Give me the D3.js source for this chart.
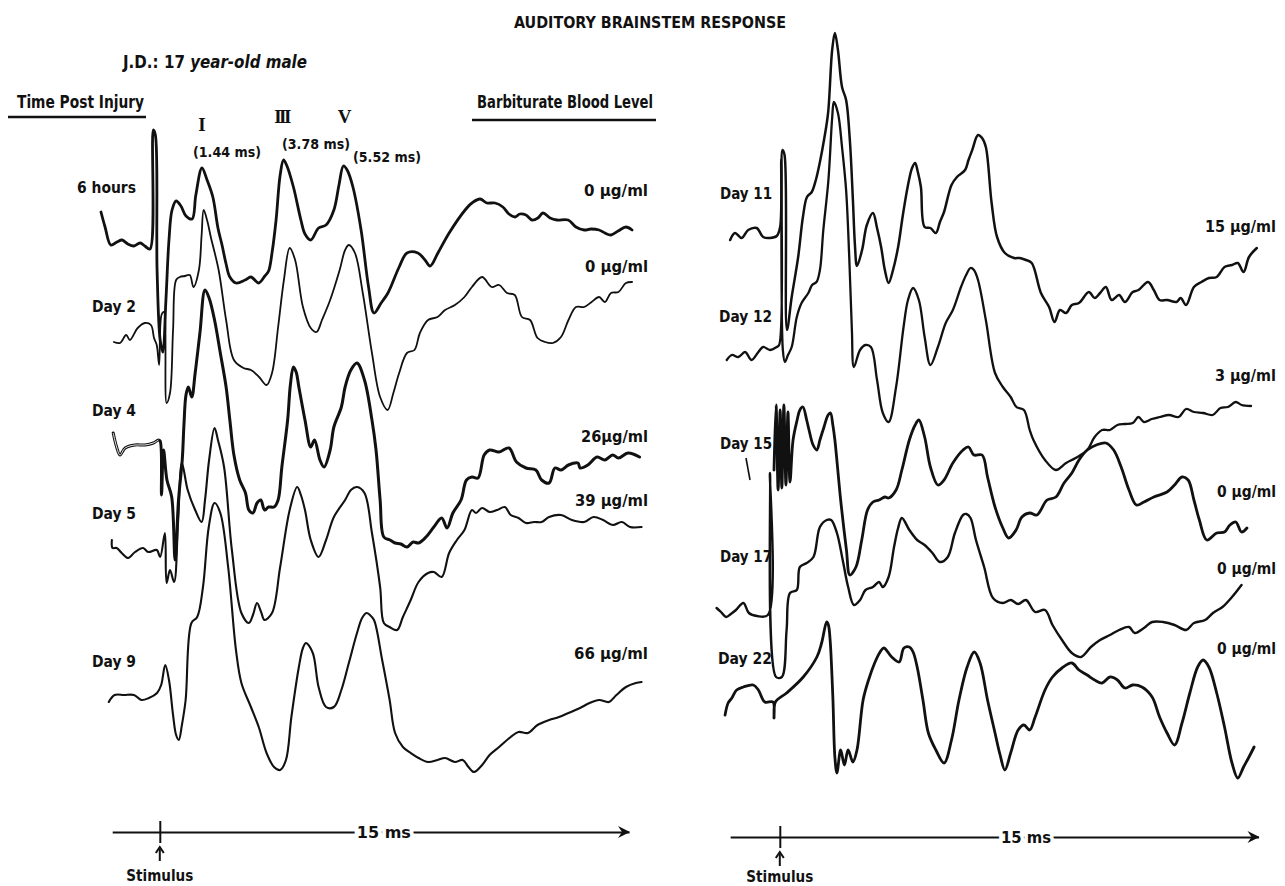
<!DOCTYPE html>
<html>
<head>
<meta charset="utf-8">
<script src="https://cdn.jsdelivr.net/npm/d3@7"></script>
<style>
  html, body { margin: 0; padding: 0; background: #fff; }
  svg { display: block; }
  text { font-family: "Liberation Sans Narrow", "DejaVu Sans Condensed", "Roboto Condensed", sans-serif; font-weight: bold; fill: #111; }
</style>
</head>
<body>
<div id="chart"></div>
<script>
// ---- data: time in ms, amplitude in arbitrary units (0 = pre-stimulus level) ----
const leftLabels = ["6 hours", "Day 2", "Day 4", "Day 5", "Day 9"];
const leftLevels = ["0 µg/ml", "0 µg/ml", "26µg/ml", "39 µg/ml", "66 µg/ml"];
const rightLabels = ["Day 11", "Day 12", "Day 15", "Day 17", "Day 22"];
const rightLevels = ["15 µg/ml", "3 µg/ml", "0 µg/ml", "0 µg/ml", "0 µg/ml"];
const waveNames = ["I", "III", "V"];
const waveLatencies = [1.44, 3.78, 5.52];
const stimulusMs = 0.2;
const sweepLabel = "15 ms";

const hours6 = [[-1.53,3.3],[-1.41,1.8],[-1.24,0],[-1.06,0.3],[-0.91,0.5],[-0.74,0.1],[-0.56,-0.1],[-0.38,0.2],[-0.24,-0.1],[-0.09,-0.4],[0.01,11.5],[0.07,11.0],[0.12,-2.5],[0.21,-9.5],[0.29,-10.7],[0.38,-5.5],[0.47,0.5],[0.56,3.5],[0.68,4.4],[0.82,3.9],[0.97,2.9],[1.15,2.6],[1.26,5.0],[1.44,7.7],[1.59,6.5],[1.76,4.8],[1.91,1.7],[2.03,0],[2.15,-1.9],[2.26,-3.2],[2.44,-3.8],[2.71,-3.5],[2.88,-3.2],[3.11,-3.8],[3.29,-3.1],[3.40,-2.6],[3.50,-0.8],[3.62,2.5],[3.74,7.0],[3.84,8.5],[3.94,7.9],[4.13,5.8],[4.35,2.5],[4.47,1.1],[4.64,0.5],[4.87,1.7],[5.09,2.0],[5.32,3.5],[5.47,6.0],[5.60,7.9],[5.71,7.5],[5.88,5.8],[6.12,1.5],[6.34,-4.2],[6.50,-6.8],[6.71,-5.8],[6.91,-4.8],[7.24,-2.2],[7.47,-0.8],[7.79,-0.8],[8.00,-1.5],[8.15,-2.1],[8.38,-0.8],[8.71,1.2],[9.18,3.5],[9.38,4.2],[9.62,4.6],[9.82,4.2],[10.06,4.2],[10.29,3.8],[10.47,3.1],[10.65,2.8],[10.79,3.1],[10.97,3.0],[11.15,2.5],[11.32,2.7],[11.47,3.2],[11.68,2.7],[11.88,2.5],[12.21,2.5],[12.44,1.8],[12.68,1.5],[12.88,1.6],[13.12,1.5],[13.29,1.2],[13.47,1.0],[13.68,1.4],[13.91,1.8],[14.09,1.5]];

const day2 = [[-1.15,-0.7],[-0.97,-0.8],[-0.79,0],[-0.68,-0.5],[-0.45,0.7],[-0.24,1.2],[-0.06,1.0],[0.03,-0.3],[0.11,-1.0],[0.18,-3.0],[0.25,2.0],[0.32,2.3],[0.40,-6.8],[0.50,-5.8],[0.59,0.5],[0.68,5.5],[0.79,5.8],[0.94,5.9],[1.08,6.0],[1.19,4.8],[1.35,6.5],[1.43,10.0],[1.49,12.5],[1.59,11.5],[1.70,9.8],[1.93,6.5],[2.15,1.5],[2.38,-2.5],[2.66,-3.3],[2.88,-3.5],[3.12,-4.2],[3.34,-5.0],[3.50,-3.8],[3.68,0.8],[3.85,5.5],[4.02,8.7],[4.18,7.5],[4.41,2.8],[4.64,0.7],[4.81,0.3],[4.97,1.5],[5.21,3.5],[5.49,6.5],[5.65,8.5],[5.76,9.0],[5.94,8.2],[6.17,4.2],[6.44,-1.8],[6.68,-6.2],[6.90,-7.5],[7.07,-5.8],[7.24,-3.8],[7.47,-1.8],[7.69,-1.5],[7.85,0.2],[8.09,1.5],[8.37,1.8],[8.59,2.5],[8.88,3.0],[9.16,3.8],[9.38,4.8],[9.68,5.8],[9.96,4.8],[10.18,5.0],[10.41,4.2],[10.64,4.0],[10.85,1.8],[11.09,1.5],[11.31,-0.3],[11.53,-0.7],[11.76,-0.8],[12.00,-0.2],[12.22,1.5],[12.44,2.8],[12.68,2.8],[12.90,3.3],[13.12,3.8],[13.29,3.3],[13.47,4.2],[13.69,4.3],[13.91,5.2],[14.09,5.3]];

const day4 = [[-1.17,1.0],[-1.07,-0.4],[-0.97,-1.2],[-0.82,-0.5],[-0.53,-0.2],[-0.24,-0.2],[0.01,0],[0.16,0.3],[0.21,0.2],[0.25,-5.2],[0.31,-0.7],[0.41,-3.7],[0.55,-5.4],[0.65,-11.7],[0.75,-5.7],[0.86,-1.7],[0.91,1.8],[0.97,4.8],[1.04,5.6],[1.14,4.6],[1.24,7.0],[1.38,11.0],[1.53,15.3],[1.65,14.5],[1.81,12.3],[1.98,9.0],[2.15,5.6],[2.26,2.3],[2.38,-1.2],[2.55,-3.7],[2.72,-5.0],[2.82,-6.7],[2.94,-7.0],[3.06,-6.0],[3.17,-5.7],[3.28,-6.7],[3.40,-6.4],[3.56,-6.4],[3.68,-5.7],[3.79,-2.4],[3.96,2.3],[4.04,5.8],[4.13,7.6],[4.21,7.1],[4.29,5.6],[4.47,2.3],[4.64,-0.4],[4.75,0.3],[4.91,-1.7],[5.03,-2.4],[5.21,-0.7],[5.32,1.6],[5.54,3.6],[5.65,5.6],[5.82,7.3],[6.00,8.0],[6.22,6.3],[6.44,2.3],[6.56,-0.7],[6.68,-5.7],[6.79,-9.4],[6.97,-9.7],[7.12,-10.0],[7.29,-10.1],[7.47,-10.4],[7.65,-9.9],[7.81,-10.0],[8.03,-9.4],[8.26,-8.4],[8.49,-7.5],[8.65,-8.5],[8.82,-7.0],[9.06,-5.7],[9.22,-3.7],[9.38,-3.4],[9.56,-3.5],[9.74,-1.2],[9.90,-0.7],[10.18,-0.9],[10.47,-0.5],[10.69,-1.9],[10.97,-2.5],[11.26,-2.7],[11.43,-3.7],[11.65,-4.0],[11.82,-2.5],[12.00,-2.7],[12.22,-2.2],[12.50,-2.0],[12.56,-2.5],[12.79,-2.2],[13.06,-1.4],[13.29,-1.7],[13.52,-1.2],[13.69,-1.5],[13.97,-1.0],[14.31,-1.4]];

const day5 = [[-1.21,1.0],[-1.19,0.2],[-1.07,0.2],[-0.92,-0.3],[-0.73,-0.8],[-0.53,-0.2],[-0.29,0.2],[-0.14,-0.2],[0.11,0],[0.21,-0.7],[0.35,1.7],[0.40,-3.3],[0.50,-2.0],[0.62,-3.2],[0.74,3.0],[0.85,8.7],[1.02,6.0],[1.24,4.0],[1.43,2.8],[1.53,5.0],[1.65,9.0],[1.81,12.2],[1.91,11.0],[2.09,8.3],[2.32,0],[2.60,-6.3],[2.82,-7.3],[2.94,-6.5],[3.06,-5.3],[3.18,-6.2],[3.28,-7.0],[3.50,-6.3],[3.74,-1.7],[4.02,4.0],[4.24,6.3],[4.35,5.5],[4.47,4.0],[4.64,1.0],[4.87,-0.7],[5.09,1.0],[5.32,3.3],[5.65,5.0],[5.82,6.0],[6.00,6.3],[6.22,5.7],[6.44,1.7],[6.68,-3.7],[6.79,-7.3],[6.96,-7.7],[7.18,-8.0],[7.35,-6.7],[7.58,-5.0],[7.81,-3.2],[8.09,-2.3],[8.26,-2.2],[8.49,-2.7],[8.71,-0.3],[8.94,1.0],[9.16,2.0],[9.38,4.0],[9.50,3.7],[9.68,4.2],[9.90,3.8],[10.12,4.0],[10.35,4.3],[10.52,3.5],[10.75,3.2],[10.97,2.7],[11.21,2.8],[11.43,2.8],[11.65,3.3],[12.00,3.5],[12.32,3.0],[12.68,2.8],[12.96,3.3],[13.24,3.0],[13.52,2.5],[13.79,2.8],[14.03,2.3],[14.37,2.3]];

const day9 = [[-1.30,-0.7],[-1.13,0],[-0.85,0],[-0.56,0],[-0.34,-0.5],[-0.12,-0.3],[0.12,0.2],[0.24,1.0],[0.36,3.0],[0.47,1.5],[0.59,-2.0],[0.68,-4.0],[0.76,-4.5],[0.85,-3.0],[0.96,-0.5],[1.13,7.2],[1.30,7.8],[1.47,10.8],[1.64,16.8],[1.81,19.2],[1.98,18.2],[2.21,12.8],[2.44,4.5],[2.60,1.2],[2.88,-1.2],[3.11,-3.2],[3.34,-5.8],[3.56,-7.2],[3.74,-7.5],[3.91,-6.5],[4.07,-2.2],[4.29,2.8],[4.41,4.7],[4.50,5.2],[4.70,4.2],[4.87,0.8],[5.09,-1.2],[5.32,-1.2],[5.54,0.5],[5.76,3.2],[6.00,6.2],[6.15,7.7],[6.28,8.2],[6.38,8.0],[6.50,7.5],[6.74,3.5],[6.96,-0.5],[7.12,-3.8],[7.35,-5.2],[7.58,-5.8],[7.81,-6.3],[8.09,-6.7],[8.37,-6.5],[8.59,-6.3],[8.88,-6.7],[9.11,-6.5],[9.28,-7.2],[9.44,-7.7],[9.68,-7.0],[9.90,-6.0],[10.18,-5.2],[10.52,-4.2],[10.75,-3.7],[11.03,-3.8],[11.31,-3.0],[11.65,-2.5],[11.94,-2.2],[12.22,-1.8],[12.56,-1.3],[12.84,-0.8],[13.12,-0.5],[13.41,-0.7],[13.63,0],[13.91,0.8],[14.20,1.2],[14.37,1.3]];

const day11 = [[-1.26,-0.4],[-1.12,0.3],[-0.92,-0.2],[-0.73,0.6],[-0.48,0.8],[-0.29,-0.1],[-0.09,-0.2],[0.11,0],[0.21,0.9],[0.28,8.6],[0.34,8.1],[0.41,-9.4],[0.55,-6.1],[0.74,-2.1],[0.88,1.9],[1.00,3.9],[1.14,4.4],[1.26,5.6],[1.38,7.4],[1.50,9.6],[1.62,12.3],[1.74,18.6],[1.82,20.3],[1.91,18.6],[2.03,14.9],[2.15,13.6],[2.26,9.6],[2.35,3.6],[2.41,-0.9],[2.47,-3.0],[2.62,-1.4],[2.76,1.1],[2.94,2.3],[3.06,0.8],[3.18,-1.1],[3.29,-3.4],[3.40,-4.7],[3.53,-3.4],[3.68,-1.1],[3.82,2.1],[3.96,4.9],[4.09,6.8],[4.18,7.3],[4.26,6.4],[4.35,4.9],[4.46,0.9],[4.63,0.8],[4.79,0.3],[4.91,1.4],[5.03,2.4],[5.25,5.1],[5.41,5.9],[5.65,6.6],[5.75,7.6],[5.86,8.6],[6.03,10.1],[6.15,9.8],[6.26,8.9],[6.43,3.3],[6.59,-0.1],[6.82,-1.7],[7.09,-2.2],[7.26,-2.2],[7.44,-2.4],[7.61,-2.7],[7.88,-5.7],[8.12,-7.1],[8.28,-8.6],[8.44,-7.4],[8.62,-7.7],[8.79,-6.9],[9.00,-6.7],[9.29,-5.6],[9.46,-6.2],[9.62,-5.7],[9.79,-5.1],[9.96,-6.4],[10.18,-5.9],[10.35,-6.6],[10.58,-5.6],[10.75,-5.4],[11.03,-4.6],[11.20,-5.4],[11.37,-6.4],[11.59,-6.4],[11.87,-6.6],[11.99,-6.2],[12.15,-6.9],[12.38,-5.1],[12.60,-4.6],[12.82,-4.2],[13.05,-4.1],[13.28,-3.1],[13.50,-2.9],[13.67,-2.7],[13.84,-3.6],[14.00,-2.1],[14.23,-1.2]];

const day12 = [[-1.36,-0.8],[-1.21,-0.3],[-1.02,-0.5],[-0.82,0],[-0.63,-0.8],[-0.43,0],[-0.29,0.5],[-0.09,0.2],[0.11,0.5],[0.18,0.7],[0.24,19.2],[0.29,0.2],[0.35,-1.0],[0.44,-0.3],[0.55,0.5],[0.70,3.5],[0.84,4.9],[1.04,5.9],[1.15,6.7],[1.28,7.0],[1.38,8.2],[1.48,12.2],[1.63,17.2],[1.74,23.4],[1.79,25.0],[1.91,23.9],[2.03,20.5],[2.15,16.2],[2.24,9.7],[2.32,2.2],[2.38,-1.5],[2.56,0.2],[2.72,0.7],[2.88,0.5],[3.06,-2.8],[3.23,-6.1],[3.40,-7.0],[3.62,-3.5],[3.84,2.5],[3.97,5.2],[4.12,6.4],[4.29,5.2],[4.46,1.5],[4.63,-1.3],[4.85,0.5],[5.08,2.9],[5.29,4.2],[5.53,6.5],[5.68,7.7],[5.81,8.4],[5.91,8.2],[6.03,7.2],[6.26,3.2],[6.53,-2.1],[6.76,-3.5],[6.99,-4.5],[7.16,-5.5],[7.38,-5.8],[7.55,-7.8],[7.66,-8.8],[8.00,-10.8],[8.32,-11.8],[8.62,-11.1],[8.90,-10.6],[9.24,-9.8],[9.46,-8.5],[9.68,-7.8],[9.91,-7.8],[10.13,-7.3],[10.35,-7.2],[10.58,-7.1],[10.75,-6.5],[10.91,-7.0],[11.14,-6.7],[11.37,-6.5],[11.65,-6.3],[11.93,-6.5],[12.15,-5.7],[12.38,-6.0],[12.65,-6.1],[12.93,-6.3],[13.16,-5.6],[13.38,-5.5],[13.61,-5.0],[13.78,-5.3],[14.06,-5.4]];

const day15 = [[0.03,-2.0],[0.09,4.5],[0.15,-4.0],[0.21,4.0],[0.26,-3.8],[0.32,4.5],[0.38,-3.5],[0.44,3.8],[0.50,-3.2],[0.59,1.0],[0.71,3.0],[0.79,4.0],[0.88,4.3],[0.99,3.0],[1.06,2.0],[1.18,0.5],[1.29,0],[1.38,1.0],[1.50,2.3],[1.62,3.5],[1.69,3.7],[1.76,2.5],[1.82,1.0],[1.99,-5.0],[2.16,-10.0],[2.26,-12.5],[2.44,-11.7],[2.61,-9.0],[2.78,-6.0],[2.94,-5.2],[3.12,-5.0],[3.29,-4.7],[3.40,-4.8],[3.62,-4.0],[3.79,-2.0],[4.01,1.0],[4.18,2.5],[4.29,3.0],[4.46,1.3],[4.63,-1.7],[4.85,-3.5],[5.03,-3.0],[5.29,-1.3],[5.59,0],[5.75,0.3],[5.91,-0.5],[6.15,-0.5],[6.31,-2.7],[6.53,-5.7],[6.76,-7.8],[6.93,-8.8],[7.15,-8.0],[7.32,-6.7],[7.55,-6.3],[7.76,-6.5],[8.06,-5.0],[8.32,-4.7],[8.56,-3.3],[8.79,-2.3],[9.00,-1.0],[9.24,0],[9.51,0.5],[9.79,0.7],[10.02,0],[10.24,-1.7],[10.47,-4.0],[10.69,-5.5],[10.91,-5.2],[11.20,-4.7],[11.59,-4.2],[11.81,-3.5],[12.03,-2.7],[12.21,-3.0],[12.38,-5.0],[12.54,-7.0],[12.76,-9.0],[13.05,-8.3],[13.28,-8.2],[13.44,-7.5],[13.61,-7.2],[13.78,-8.2],[13.94,-7.8]];

const day17 = [[-1.66,0.5],[-1.53,0.1],[-1.38,-0.4],[-1.24,-0.1],[-1.09,0.3],[-0.87,1.0],[-0.71,0],[-0.47,-0.3],[-0.15,-0.2],[-0.09,14.0],[0.09,-6.4],[0.26,-6.4],[0.40,-1.7],[0.50,2.0],[0.70,2.3],[0.79,4.6],[0.99,5.0],[1.19,5.6],[1.38,8.6],[1.58,9.3],[1.71,9.3],[1.88,8.0],[2.05,5.3],[2.21,2.6],[2.38,0.8],[2.56,1.3],[2.72,2.3],[2.94,2.6],[3.12,3.1],[3.23,2.6],[3.40,3.6],[3.56,6.6],[3.68,8.5],[3.79,9.5],[4.01,8.3],[4.24,7.3],[4.46,6.8],[4.69,6.0],[4.91,5.1],[5.14,5.6],[5.35,8.0],[5.59,9.8],[5.69,9.9],[5.81,9.5],[5.97,7.3],[6.21,4.6],[6.47,1.5],[6.76,1.0],[6.99,1.3],[7.21,0.9],[7.44,1.3],[7.71,0.1],[8.00,0.3],[8.22,-1.2],[8.50,-2.7],[8.79,-4.0],[9.06,-4.4],[9.35,-3.4],[9.62,-2.7],[9.91,-2.2],[10.18,-1.7],[10.47,-1.4],[10.64,-2.0],[10.91,-1.5],[11.15,-0.9],[11.47,-0.9],[11.81,-1.2],[12.15,-1.7],[12.38,-1.0],[12.71,-0.7],[12.94,0],[13.22,0.6],[13.50,1.6],[13.78,2.8]];

const day22 = [[-1.41,-2.0],[-1.32,-0.8],[-1.21,-0.3],[-1.07,0.5],[-0.87,0.8],[-0.58,1.0],[-0.43,0.5],[-0.24,-0.7],[0,-0.7],[0.03,-2.3],[0.07,-0.7],[0.40,0.2],[0.89,1.8],[1.29,3.8],[1.43,5.2],[1.58,7.3],[1.63,7.0],[1.68,5.5],[1.76,-0.2],[1.82,-6.2],[1.88,-7.8],[1.99,-5.5],[2.10,-7.0],[2.21,-5.5],[2.35,-6.7],[2.47,-5.5],[2.65,-0.5],[2.81,1.5],[2.99,3.2],[3.15,4.3],[3.26,4.7],[3.49,3.8],[3.71,3.3],[3.85,4.7],[4.01,4.8],[4.12,4.3],[4.24,2.8],[4.41,-0.5],[4.57,-3.8],[4.79,-5.5],[5.03,-6.8],[5.25,-4.5],[5.47,-0.5],[5.71,2.8],[5.92,4.3],[6.09,3.2],[6.31,-0.5],[6.53,-3.8],[6.68,-6.0],[6.82,-7.5],[6.99,-5.8],[7.21,-3.5],[7.38,-3.0],[7.55,-3.5],[7.71,-2.2],[8.00,0.5],[8.22,1.8],[8.50,2.7],[8.79,3.2],[9.00,2.5],[9.24,2.0],[9.46,1.5],[9.68,1.2],[9.91,1.8],[10.13,1.5],[10.35,0.7],[10.58,1.0],[10.85,0.8],[11.15,-0.2],[11.37,-2.2],[11.59,-3.8],[11.81,-5.0],[12.03,-2.8],[12.26,0.2],[12.49,2.8],[12.65,3.5],[12.82,2.8],[13.05,0.2],[13.28,-3.2],[13.50,-6.8],[13.67,-8.3],[13.84,-7.2],[14.00,-6.2],[14.15,-5.2]];

// ---- layout ----
const width = 1285, height = 886;
const pxPerMs = 34, pxPerUnit = 10;

const panels = [
    {
        zeroX: 153, traces: [hours6, day2, day4, day5, day9],
        labels: leftLabels, levels: leftLevels,
        baseY: [245, 335, 443, 550, 695], strokes: [2.8, 1.8, 3.0, 2.1, 2.1],
        labelRight: 136, labelY: [193, 312, 416, 519, 667], labelW: [59, 44, 44, 44, 44],
        levelRight: 648, levelY: [196, 272, 442, 506, 659], levelW: [64, 63, 67, 73, 74],
        axisY: 832, axisFrom: -1.2, axisTo: 14.0, sweepAt: 6.79, sweepW: 54, stimTextY: 881
    },
    {
        zeroX: 773, traces: [day11, day12, day15, day17, day22],
        labels: rightLabels, levels: rightLevels,
        baseY: [236, 352, 450, 613, 695], strokes: [2.5, 2.3, 2.8, 2.4, 2.8],
        labelRight: 772, labelY: [199, 322, 449, 562, 664], labelW: [52, 53, 52, 52, 54],
        levelRight: 1276, levelY: [232, 381, 497, 574, 654], levelW: [71, 61, 59, 59, 59],
        axisY: 837, axisFrom: -1.26, axisTo: 14.28, sweepAt: 7.44, sweepW: 50, stimTextY: 882
    }
];

const svg = d3.select("#chart").append("svg")
    .attr("width", width)
    .attr("height", height)
    .attr("viewBox", `0 0 ${width} ${height}`);

function fitText(sel, w) {
    return sel.attr("textLength", w).attr("lengthAdjust", "spacingAndGlyphs");
}

// headings
fitText(svg.append("text").attr("x", 514).attr("y", 28).style("font-size", "16px")
    .text("AUDITORY BRAINSTEM RESPONSE"), 272);

const jd = svg.append("text").attr("x", 123).attr("y", 68).style("font-size", "17px");
jd.append("tspan").text("J.D.: 17 ");
jd.append("tspan").style("font-style", "italic").text("year-old male");
fitText(jd, 184);

fitText(svg.append("text").attr("x", 17).attr("y", 108).style("font-size", "17px")
    .text("Time Post Injury"), 127);
svg.append("line").attr("x1", 8).attr("x2", 146).attr("y1", 117).attr("y2", 117)
    .attr("stroke", "#111").attr("stroke-width", 2.4);

fitText(svg.append("text").attr("x", 477).attr("y", 108).style("font-size", "17px")
    .text("Barbiturate Blood Level"), 176);
svg.append("line").attr("x1", 472).attr("x2", 656).attr("y1", 120).attr("y2", 120)
    .attr("stroke", "#111").attr("stroke-width", 2.4);

function drawPanel(p, idx) {
    const x = d3.scaleLinear().domain([0, 14]).range([p.zeroX, p.zeroX + 14 * pxPerMs]);
    const amp = d3.scaleLinear().domain([0, 1]).range([0, -pxPerUnit]);

    const line = d3.line()
        .x(d => x(d[0]))
        .y(d => amp(d[1]))
        .curve(d3.curveCatmullRom.alpha(0.5));

    const g = svg.append("g").attr("class", "panel-" + idx);

    p.traces.forEach((trace, i) => {
        const tg = g.append("g").attr("transform", `translate(0,${p.baseY[i]})`);
        tg.append("path")
            .attr("d", line(trace))
            .attr("fill", "none")
            .attr("stroke", "#111")
            .attr("stroke-width", p.strokes[i])
            .attr("stroke-linejoin", "round")
            .attr("stroke-linecap", "round");
        if (trace === day4) {
            // doubled pen line before the stimulus
            tg.append("path")
                .attr("d", line(trace.filter(d => d[0] < 0.2)))
                .attr("fill", "none")
                .attr("stroke", "#fff")
                .attr("stroke-width", 0.9);
        }
    });

    g.selectAll(".trace-label")
        .data(p.labels)
        .enter().append("text")
        .attr("class", "trace-label")
        .attr("text-anchor", "end")
        .attr("x", p.labelRight)
        .attr("y", (d, i) => p.labelY[i])
        .style("font-size", "16px")
        .text(d => d)
        .each(function (d, i) { fitText(d3.select(this), p.labelW[i]); });

    g.selectAll(".level-label")
        .data(p.levels)
        .enter().append("text")
        .attr("class", "level-label")
        .attr("text-anchor", "end")
        .attr("x", p.levelRight)
        .attr("y", (d, i) => p.levelY[i])
        .style("font-size", "16px")
        .text(d => d)
        .each(function (d, i) { fitText(d3.select(this), p.levelW[i]); });

    // sweep axis with the stimulus mark
    const axisScale = x.copy().domain([p.axisFrom, p.axisTo])
        .range([x(p.axisFrom), x(p.axisTo)]);
    const axisG = g.append("g")
        .attr("transform", `translate(0,${p.axisY})`)
        .call(d3.axisBottom(axisScale).tickValues([stimulusMs]).tickSizeOuter(0).tickFormat(""));
    axisG.select(".domain").attr("stroke", "#111").attr("stroke-width", 2);
    axisG.selectAll(".tick line").attr("stroke", "#111").attr("stroke-width", 2)
        .attr("y1", -11).attr("y2", 11);

    const tip = x(p.axisTo);
    g.append("path")
        .attr("d", `M${tip - 11},${p.axisY - 6}L${tip + 1},${p.axisY}L${tip - 11},${p.axisY + 6}L${tip - 7},${p.axisY}Z`)
        .attr("fill", "#111");

    fitText(g.append("text")
        .attr("x", x(p.sweepAt))
        .attr("y", p.axisY + 6)
        .attr("text-anchor", "middle")
        .style("font-size", "16px")
        .attr("stroke", "#fff").attr("stroke-width", 7).style("paint-order", "stroke")
        .text(sweepLabel), p.sweepW);

    const sx = x(stimulusMs);
    g.append("line")
        .attr("x1", sx).attr("x2", sx)
        .attr("y1", p.axisY + 29).attr("y2", p.axisY + 17)
        .attr("stroke", "#111").attr("stroke-width", 2);
    g.append("path")
        .attr("d", `M${sx - 4},${p.axisY + 21}L${sx},${p.axisY + 15}L${sx + 4},${p.axisY + 21}`)
        .attr("fill", "none").attr("stroke", "#111").attr("stroke-width", 2);
    fitText(g.append("text")
        .attr("x", sx)
        .attr("y", p.stimTextY)
        .attr("text-anchor", "middle")
        .style("font-size", "15px")
        .text("Stimulus"), 67);

    return x;
}

const xLeft = drawPanel(panels[0], 0);
drawPanel(panels[1], 1);

// wave markers above the 6 hour trace
const romanX = waveLatencies.map(t => xLeft(t));
const romanY = [131, 123, 123];
svg.selectAll(".wave-name")
    .data(waveNames)
    .enter().append("text")
    .attr("class", "wave-name")
    .attr("x", (d, i) => romanX[i] + (i === 2 ? 4 : 0))
    .attr("y", (d, i) => romanY[i])
    .attr("text-anchor", "middle")
    .style("font-family", "'Liberation Serif', 'DejaVu Serif', serif")
    .style("font-size", "19px")
    .style("letter-spacing", d => d === "III" ? "-2.5px" : "0px")
    .text(d => d);

const latencyX = [193, 282, 353];
const latencyY = [157, 149, 162];
svg.selectAll(".latency")
    .data(waveLatencies)
    .enter().append("text")
    .attr("class", "latency")
    .attr("x", (d, i) => latencyX[i])
    .attr("y", (d, i) => latencyY[i])
    .style("font-size", "14px")
    .text(d => `(${d.toFixed(2)} ms)`)
    .each(function () { fitText(d3.select(this), 68); });

// small leader stroke under "Day 15"
svg.append("line").attr("x1", 746).attr("y1", 458).attr("x2", 750).attr("y2", 480)
    .attr("stroke", "#111").attr("stroke-width", 1.6);
</script>
</body>
</html>
